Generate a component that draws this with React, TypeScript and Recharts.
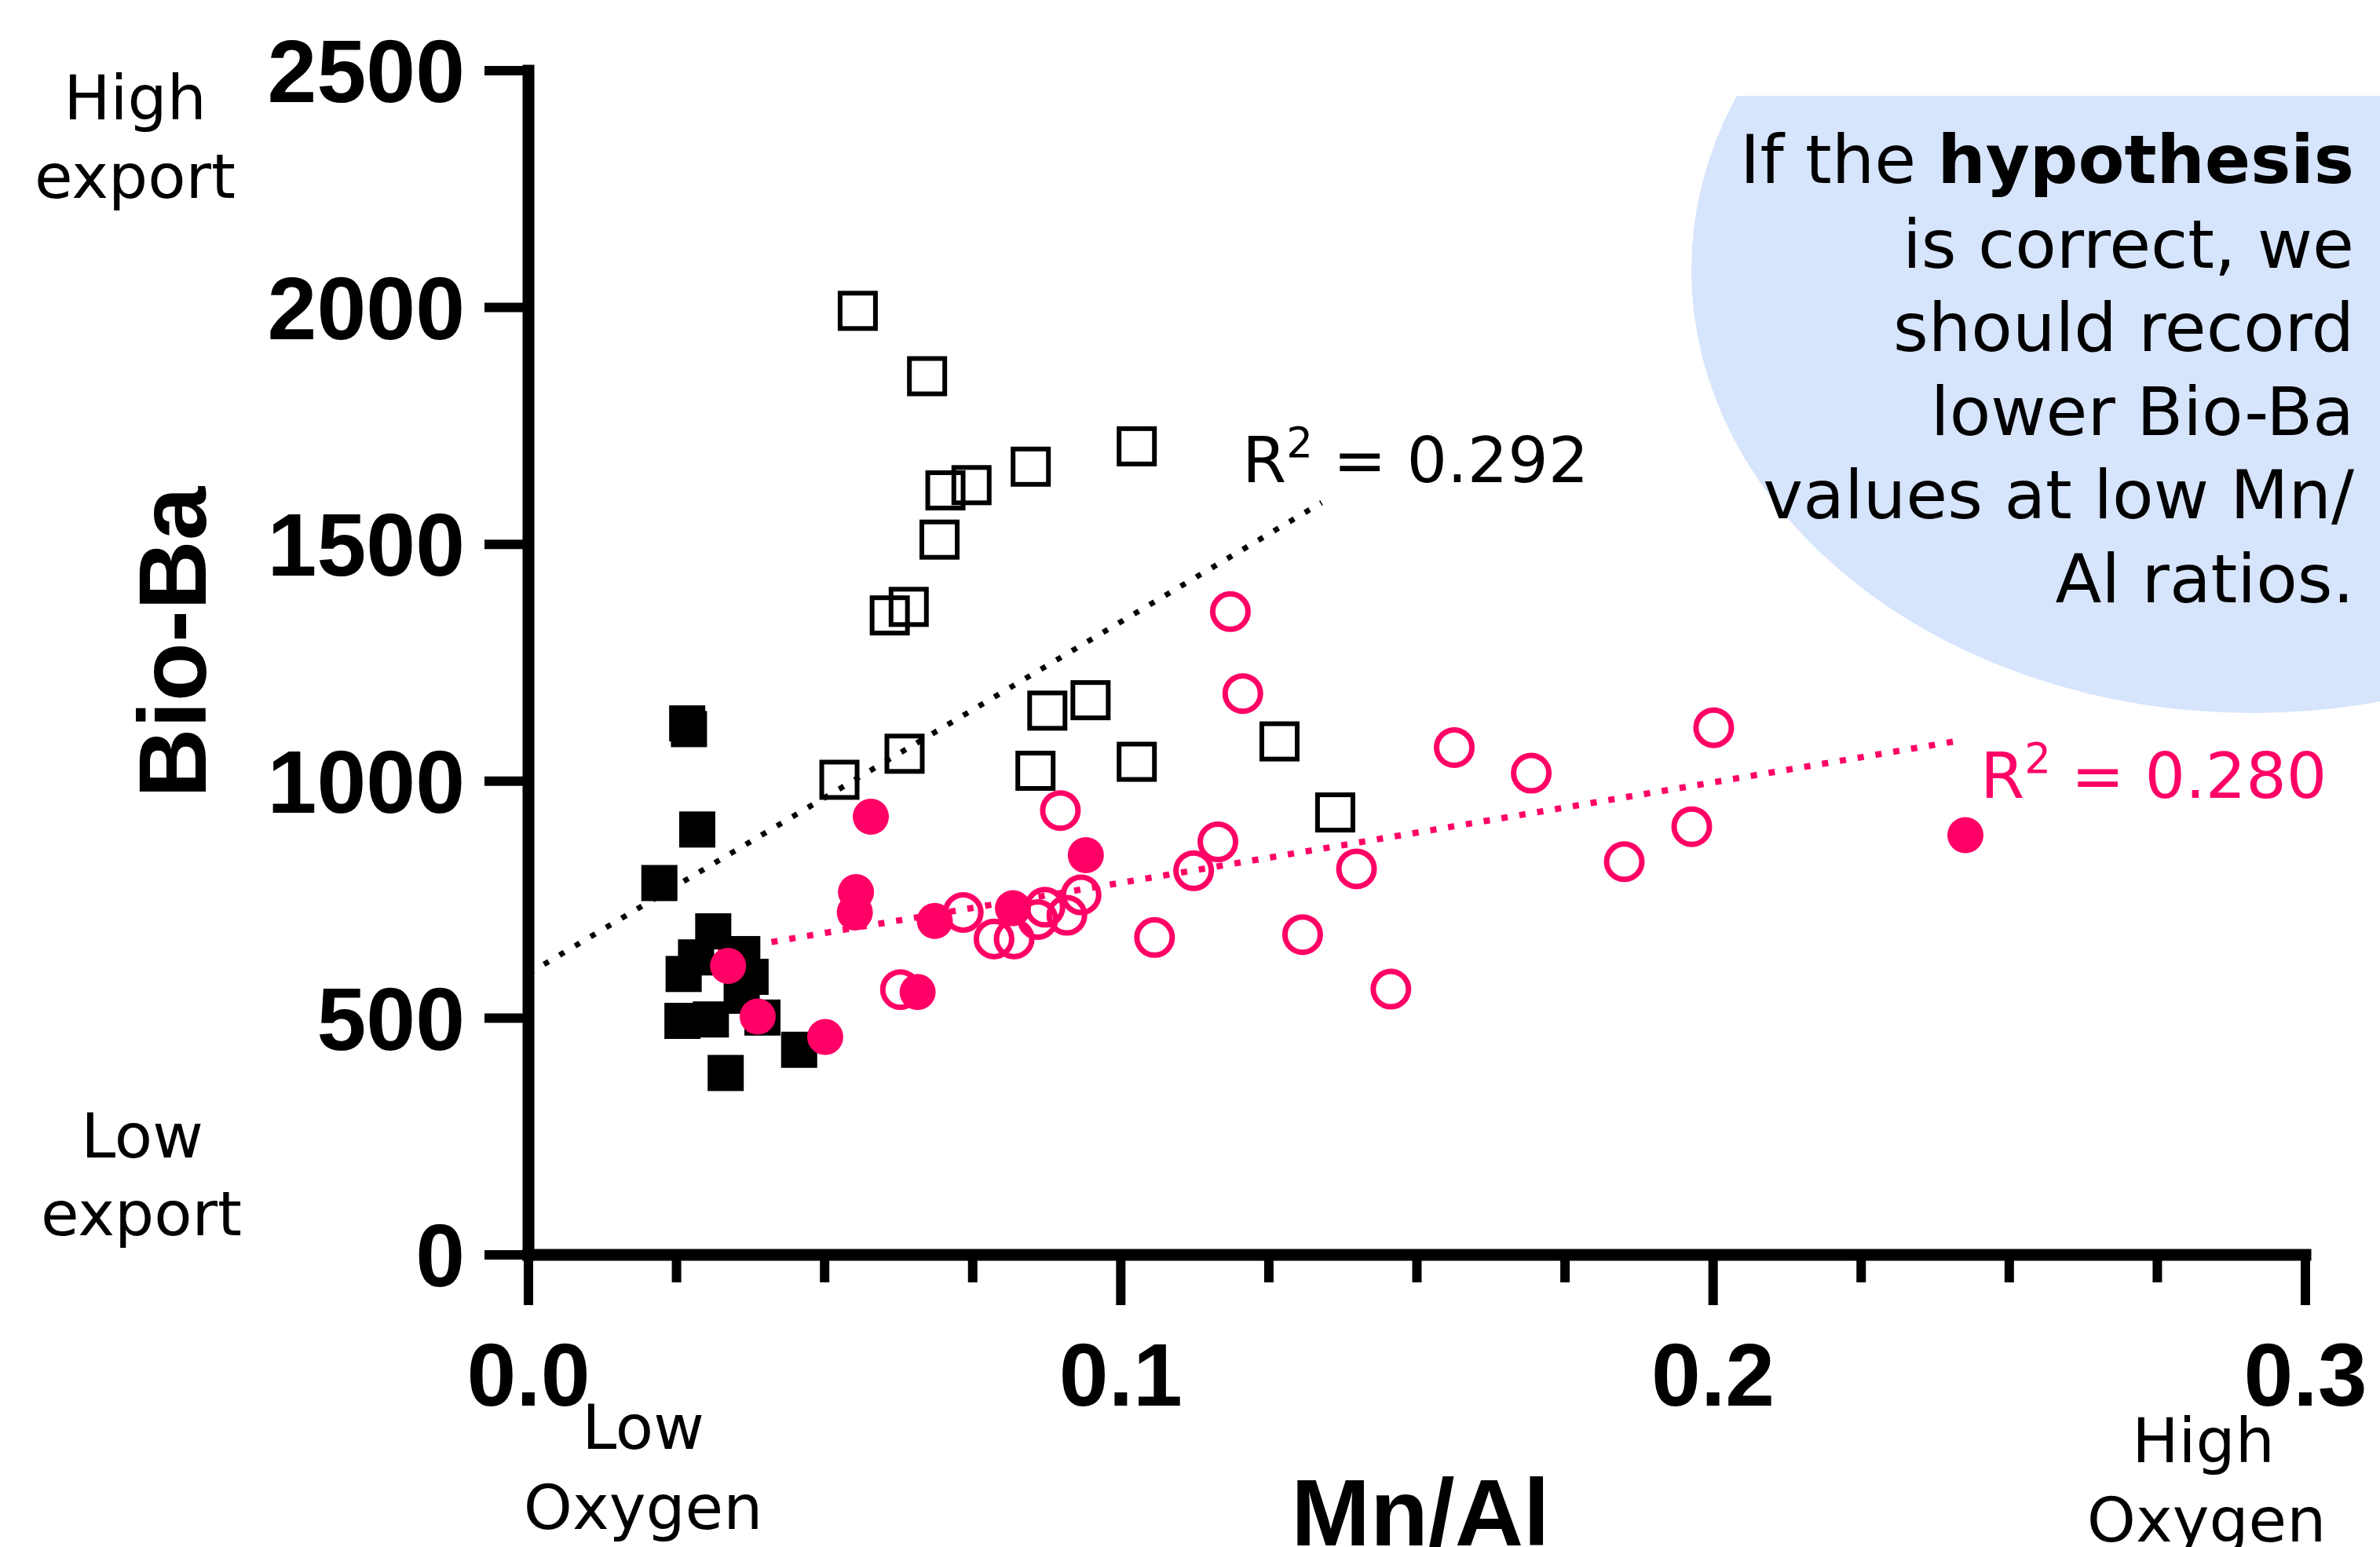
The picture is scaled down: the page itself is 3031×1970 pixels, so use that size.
import React from 'react';
import { ScatterChart, Scatter, XAxis, YAxis, ReferenceLine } from 'recharts';

const W = 3031;
const H = 1970;
const PINK = '#ff0066';
const BUBBLE = '#d6e4fc';

// Mn/Al (x) vs Bio-Ba (y)
const openSquares = [
  { x: 0.0556, y: 1993 }, { x: 0.0673, y: 1855 }, { x: 0.1027, y: 1707 }, { x: 0.0848, y: 1664 },
  { x: 0.0748, y: 1625 }, { x: 0.0704, y: 1614 }, { x: 0.0694, y: 1510 }, { x: 0.0642, y: 1368 },
  { x: 0.0610, y: 1350 }, { x: 0.0949, y: 1171 }, { x: 0.0876, y: 1149 }, { x: 0.1268, y: 1084 },
  { x: 0.1027, y: 1041 }, { x: 0.0635, y: 1058 }, { x: 0.0856, y: 1022 }, { x: 0.0525, y: 1003 },
  { x: 0.1362, y: 934 },
];

const filledSquares = [
  { x: 0.0268, y: 1122 }, { x: 0.0271, y: 1110 }, { x: 0.0285, y: 898 }, { x: 0.0221, y: 785 },
  { x: 0.0312, y: 683 }, { x: 0.0283, y: 628 }, { x: 0.0262, y: 593 }, { x: 0.0361, y: 635 },
  { x: 0.0375, y: 587 }, { x: 0.0360, y: 547 }, { x: 0.0260, y: 494 }, { x: 0.0308, y: 497 },
  { x: 0.0395, y: 501 }, { x: 0.0457, y: 433 }, { x: 0.0333, y: 384 },
];

const openCircles = [
  { x: 0.1185, y: 1358 }, { x: 0.1206, y: 1185 }, { x: 0.0898, y: 938 }, { x: 0.1164, y: 872 },
  { x: 0.1398, y: 815 }, { x: 0.1123, y: 811 }, { x: 0.1563, y: 1071 }, { x: 0.1693, y: 1017 },
  { x: 0.2001, y: 1113 }, { x: 0.1964, y: 904 }, { x: 0.1850, y: 830 }, { x: 0.1057, y: 670 },
  { x: 0.1307, y: 676 }, { x: 0.1456, y: 561 }, { x: 0.0734, y: 723 }, { x: 0.0786, y: 667 },
  { x: 0.0820, y: 667 }, { x: 0.0860, y: 708 }, { x: 0.0872, y: 734 }, { x: 0.0909, y: 717 },
  { x: 0.0933, y: 760 }, { x: 0.0628, y: 560 },
];

const filledCircles = [
  { x: 0.0578, y: 925 }, { x: 0.0941, y: 844 }, { x: 0.0553, y: 766 }, { x: 0.0551, y: 723 },
  { x: 0.0686, y: 705 }, { x: 0.0818, y: 732 }, { x: 0.0657, y: 555 }, { x: 0.0337, y: 610 },
  { x: 0.0387, y: 503 }, { x: 0.0501, y: 460 }, { x: 0.2426, y: 886 },
];

// fitted trend lines (end points)
const blackFit = [{ x: 0, y: 594 }, { x: 0.1339, y: 1588 }];
const pinkFit = [{ x: 0.0290, y: 635 }, { x: 0.2422, y: 1087 }];

const xTicks = [0, 0.025, 0.05, 0.075, 0.1, 0.125, 0.15, 0.175, 0.2, 0.225, 0.25, 0.275, 0.3];
const yTicks = [0, 500, 1000, 1500, 2000, 2500];

const bubbleLines = ['is correct, we', 'should record', 'lower Bio-Ba', 'values at low Mn/', 'Al ratios.'];

const SANS = "'DejaVu Sans', Verdana, sans-serif";
const BOLD = "'Liberation Sans', Arial, sans-serif";

const XTick = (props: any) => {
  const { x, y, payload } = props;
  const v = payload.value as number;
  const major = Math.abs(v * 10 - Math.round(v * 10)) < 1e-6;
  return (
    <g>
      <line x1={x} x2={x} y1={y} y2={y + (major ? 64 : 35)} stroke="#000" strokeWidth={12} />
      {major && (
        <text x={x} y={y + 192} textAnchor="middle" fontFamily={BOLD} fontWeight="bold" fontSize={113} fill="#000">
          {v.toFixed(1)}
        </text>
      )}
    </g>
  );
};

const filledSquare = (p: any) => <rect x={p.cx - 23} y={p.cy - 23} width={46} height={46} fill="#000" />;
const openSquare = (p: any) => (
  <rect x={p.cx - 22.5} y={p.cy - 22.5} width={45} height={45} fill="none" stroke="#000" strokeWidth={6} />
);
const filledCircle = (p: any) => <circle cx={p.cx} cy={p.cy} r={23} fill={PINK} />;
const openCircle = (p: any) => <circle cx={p.cx} cy={p.cy} r={22.5} fill="none" stroke={PINK} strokeWidth={7} />;

export default function App() {
  return (
    <div style={{ position: 'absolute', left: 0, top: 0, width: W, height: H, background: '#fff', overflow: 'hidden' }}>
      <svg style={{ position: 'absolute', left: 0, top: 0 }} width={W} height={H}>
        <defs>
          <clipPath id="bubbleClip">
            <rect x={0} y={122} width={W} height={H - 122} />
          </clipPath>
        </defs>
        <ellipse cx={2869} cy={344} rx={715} ry={564} fill={BUBBLE} clipPath="url(#bubbleClip)" />
      </svg>
      <div style={{ position: 'absolute', left: 0, top: 0 }}>
        <ScatterChart width={W} height={H} margin={{ top: 90, right: 95, bottom: 172, left: 473 }}>
          <XAxis
            type="number"
            dataKey="x"
            domain={[0, 0.3]}
            ticks={xTicks}
            interval={0}
            height={200}
            tickLine={false}
            tickSize={0}
            tickMargin={0}
            axisLine={{ stroke: '#000', strokeWidth: 15, strokeLinecap: 'square' }}
            tick={<XTick />}
            allowDataOverflow
          />
          <YAxis
            type="number"
            dataKey="y"
            domain={[0, 2500]}
            ticks={yTicks}
            interval={0}
            width={200}
            tickSize={56}
            tickMargin={25}
            tickLine={{ stroke: '#000', strokeWidth: 12 }}
            axisLine={{ stroke: '#000', strokeWidth: 15, strokeLinecap: 'square' }}
            tick={{ fill: '#000', fontSize: 113, fontWeight: 'bold', fontFamily: BOLD }}
            allowDataOverflow
          />
          <ReferenceLine
            segment={blackFit}
            stroke="#000"
            strokeWidth={7}
            strokeDasharray="7 16"
            ifOverflow="visible"
          />
          <ReferenceLine
            segment={pinkFit}
            stroke={PINK}
            strokeWidth={8}
            strokeDasharray="8 15"
            ifOverflow="visible"
          />
          <Scatter data={openSquares} shape={openSquare} isAnimationActive={false} />
          <Scatter data={filledSquares} shape={filledSquare} isAnimationActive={false} />
          <Scatter data={openCircles} shape={openCircle} isAnimationActive={false} />
          <Scatter data={filledCircles} shape={filledCircle} isAnimationActive={false} />
        </ScatterChart>
      </div>
      <svg style={{ position: 'absolute', left: 0, top: 0, pointerEvents: 'none' }} width={W} height={H}>
        <g fontFamily={SANS} fontSize={79} fill="#000" textAnchor="middle">
          <text x={172} y={152}>High</text>
          <text x={172} y={252}>export</text>
          <text x={181} y={1474}>Low</text>
          <text x={180} y={1573}>export</text>
          <text x={819} y={1845}>Low</text>
          <text x={819} y={1947}>Oxygen</text>
          <text x={2806} y={1862}>High</text>
          <text x={2810} y={1963}>Oxygen</text>
        </g>
        <text x={1809} y={1968} textAnchor="middle" fontFamily={BOLD} fontWeight="bold" fontSize={121} fill="#000">
          Mn/Al
        </text>
        <text
          x={262}
          y={818}
          transform="rotate(-90 262 818)"
          textAnchor="middle"
          fontFamily={BOLD}
          fontWeight="bold"
          fontSize={123}
          fill="#000"
        >
          Bio-Ba
        </text>
        <text x={1582} y={614} fontFamily={SANS} fontSize={81} fill="#000">
          <tspan>R</tspan>
          <tspan dy={-32} fontSize={53}>2</tspan>
          <tspan dy={32}> = 0.292</tspan>
        </text>
        <text x={2522} y={1016} fontFamily={SANS} fontSize={81} fill={PINK}>
          <tspan>R</tspan>
          <tspan dy={-32} fontSize={53}>2</tspan>
          <tspan dy={32}> = 0.280</tspan>
        </text>
        <g fontFamily={SANS} fontSize={86} fill="#000" textAnchor="end">
          <text x={2998} y={233}>
            If the <tspan fontWeight="bold">hypothesis</tspan>
          </text>
          {bubbleLines.map((t, i) => (
            <text key={t} x={2998} y={341 + i * 106.4}>
              {t}
            </text>
          ))}
        </g>
      </svg>
    </div>
  );
}
